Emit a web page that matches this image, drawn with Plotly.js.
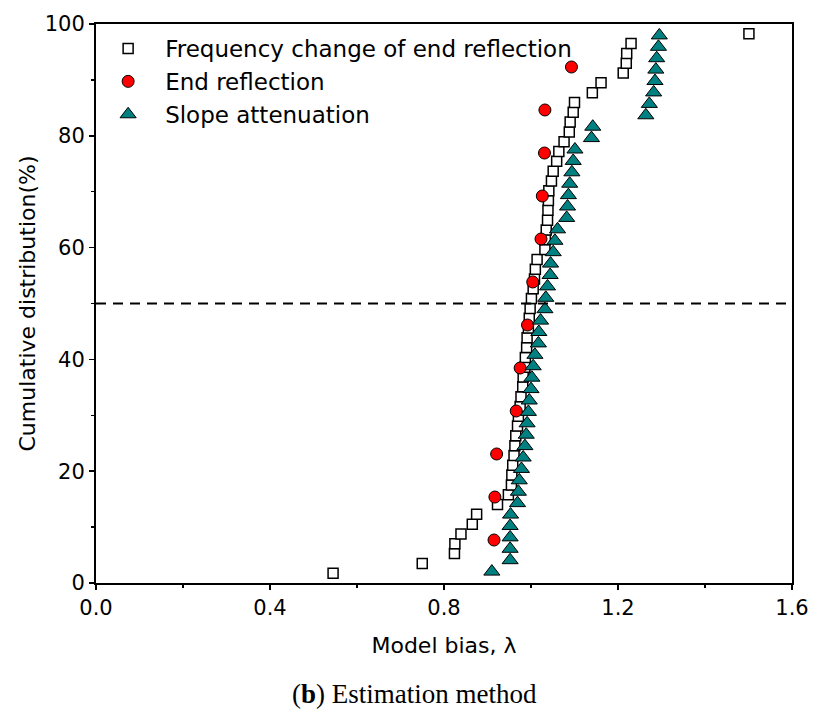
<!DOCTYPE html>
<html>
<head>
<meta charset="utf-8">
<script src="https://cdn.plot.ly/plotly-3.0.1.min.js"></script>
<style>html,body{margin:0;padding:0;background:#fff;}#chart{width:813px;height:711px;}</style>
</head>
<body>
<div id="chart"></div>
<script>
// Frequency change of end reflection (open squares)
var freqX = [0.545, 0.750, 0.824, 0.825, 0.839, 0.865, 0.875, 0.923, 0.948, 0.955,
             0.956, 0.958, 0.961, 0.963, 0.965, 0.969, 0.971, 0.975, 0.977, 0.981,
             0.982, 0.986, 0.987, 0.990, 0.991, 0.994, 0.996, 0.998, 1.001, 1.005,
             1.008, 1.010, 1.014, 1.032, 1.033, 1.035, 1.038, 1.039, 1.040, 1.041,
             1.047, 1.051, 1.059, 1.064, 1.076, 1.088, 1.090, 1.097, 1.100, 1.141,
             1.161, 1.212, 1.219, 1.220, 1.230, 1.501];
var freqY = [1.75, 3.51, 5.26, 7.02, 8.77, 10.53, 12.28, 14.04, 15.79, 17.54,
             19.30, 21.05, 22.81, 24.56, 26.32, 28.07, 29.82, 31.58, 33.33, 35.09,
             36.84, 38.60, 40.35, 42.11, 43.86, 45.61, 47.37, 49.12, 50.88, 52.63,
             54.39, 56.14, 57.89, 59.65, 61.40, 63.16, 64.91, 66.67, 68.42, 70.18,
             71.93, 73.68, 75.44, 77.19, 78.95, 80.70, 82.46, 84.21, 85.96, 87.72,
             89.47, 91.23, 92.98, 94.74, 96.49, 98.25];

// End reflection (red circles)
var endX = [0.915, 0.917, 0.921, 0.966, 0.975, 0.992, 1.004, 1.023, 1.026, 1.031, 1.032, 1.093];
var endY = [7.69, 15.38, 23.08, 30.77, 38.46, 46.15, 53.85, 61.54, 69.23, 76.92, 84.62, 92.31];

// Slope attenuation (teal triangles)
var slopeX = [0.910, 0.952, 0.952, 0.952, 0.952, 0.953, 0.969, 0.971, 0.973, 0.978,
              0.982, 0.986, 0.989, 0.991, 0.994, 0.996, 1.000, 1.002, 1.005, 1.009,
              1.017, 1.018, 1.022, 1.032, 1.034, 1.038, 1.044, 1.045, 1.051, 1.055,
              1.061, 1.082, 1.084, 1.086, 1.089, 1.094, 1.097, 1.101, 1.139, 1.142,
              1.264, 1.272, 1.282, 1.285, 1.287, 1.289, 1.293, 1.295];
var slopeY = [2.04, 4.08, 6.12, 8.16, 10.20, 12.24, 14.29, 16.33, 18.37, 20.41,
              22.45, 24.49, 26.53, 28.57, 30.61, 32.65, 34.69, 36.73, 38.78, 40.82,
              42.86, 44.90, 46.94, 48.98, 51.02, 53.06, 55.10, 57.14, 59.18, 61.22,
              63.27, 65.31, 67.35, 69.39, 71.43, 73.47, 75.51, 77.55, 79.59, 81.63,
              83.67, 85.71, 87.76, 89.80, 91.84, 93.88, 95.92, 97.96];

var seriesNames = ["Frequency change of end reflection", "End reflection", "Slope attenuation"];
var medianLine = 50;
var xTickVals = [0.0, 0.4, 0.8, 1.2, 1.6];
var xTickText = ["0.0", "0.4", "0.8", "1.2", "1.6"];
var yTickVals = [0, 20, 40, 60, 80, 100];
var yTickText = ["0", "20", "40", "60", "80", "100"];
var xTitle = "Model bias, \u03bb";
var yTitle = "Cumulative distribution(%)";
var caption = "(<b>b</b>) Estimation method";

var sansFont = "DejaVu Sans, Liberation Sans, Arial, sans-serif";

var traces = [
  {x: freqX, y: freqY, name: seriesNames[0], type: "scatter", mode: "markers",
   marker: {symbol: "square", size: 10, color: "#ffffff", line: {color: "#000000", width: 1.5}}},
  {x: endX, y: endY, name: seriesNames[1], type: "scatter", mode: "markers",
   marker: {symbol: "circle", size: 12, color: "#ff0000", line: {color: "#000000", width: 1}}},
  {x: slopeX, y: slopeY, name: seriesNames[2], type: "scatter", mode: "markers",
   marker: {symbol: "triangle-up", size: 14, color: "#008080", line: {color: "#000000", width: 1}}}
];

var layout = {
  width: 813, height: 711,
  margin: {l: 96, r: 21, t: 24, b: 128},
  paper_bgcolor: "#ffffff", plot_bgcolor: "#ffffff",
  showlegend: true,
  legend: {x: -0.007, y: 0.9946, xanchor: "left", yanchor: "top",
           bgcolor: "rgba(0,0,0,0)", font: {family: sansFont, size: 23, color: "#000"},
           itemsizing: "trace", itemwidth: 64},
  xaxis: {
    range: [0, 1.6], tickvals: xTickVals, ticktext: xTickText,
    showgrid: false, zeroline: false,
    showline: true, linecolor: "#000", linewidth: 2, mirror: true,
    ticks: "outside", ticklen: 5, tickwidth: 1.5, tickcolor: "#000",
    minor: {dtick: 0.2, ticks: "outside", ticklen: 3, tickwidth: 1.5, tickcolor: "#000", showgrid: false},
    tickfont: {family: sansFont, size: 21, color: "#000"},
    title: {text: xTitle, font: {family: sansFont, size: 22, color: "#000"}, standoff: 18}
  },
  yaxis: {
    range: [0, 100], tickvals: yTickVals, ticktext: yTickText,
    showgrid: false, zeroline: false,
    showline: true, linecolor: "#000", linewidth: 2, mirror: true,
    ticks: "outside", ticklen: 5, tickwidth: 1.5, tickcolor: "#000",
    minor: {dtick: 10, ticks: "outside", ticklen: 3, tickwidth: 1.5, tickcolor: "#000", showgrid: false},
    tickfont: {family: sansFont, size: 21, color: "#000"},
    title: {text: yTitle, font: {family: sansFont, size: 22, color: "#000"}, standoff: 3}
  },
  shapes: [
    {type: "line", xref: "paper", x0: 0, x1: 1, yref: "y", y0: medianLine, y1: medianLine,
     line: {color: "#000", width: 2, dash: "10px,7px"}}
  ],
  annotations: [
    {text: caption, xref: "paper", yref: "paper", x: 0.458, y: -0.1986,
     xanchor: "center", yanchor: "middle", showarrow: false,
     font: {family: "Liberation Serif, Times New Roman, serif", size: 27, color: "#000"}}
  ]
};

Plotly.newPlot("chart", traces, layout, {displayModeBar: false, staticPlot: true});
</script>
</body>
</html>
